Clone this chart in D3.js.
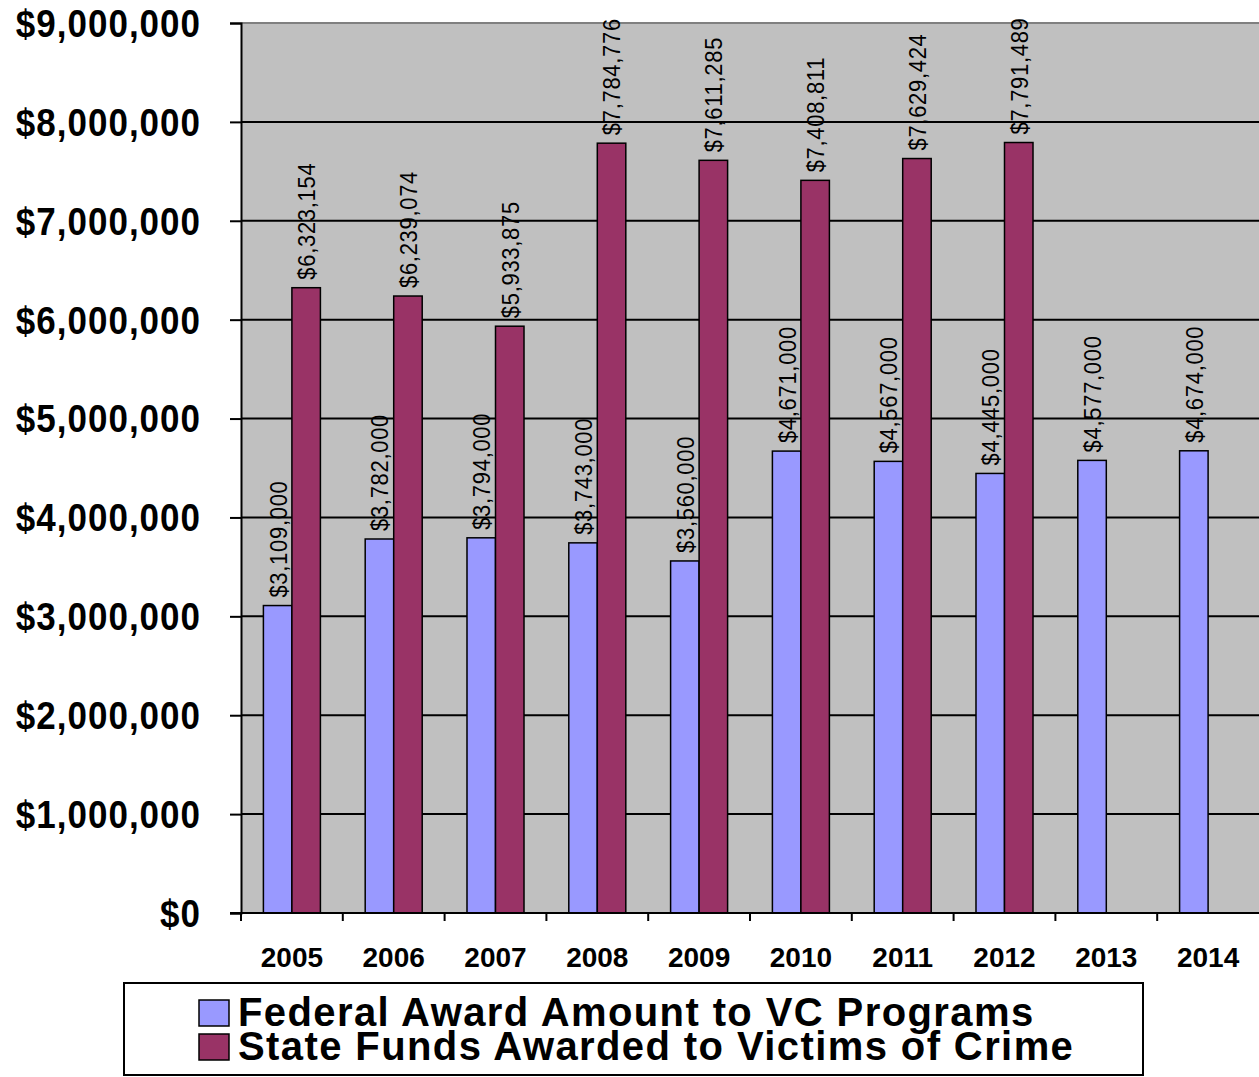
<!DOCTYPE html>
<html>
<head>
<meta charset="utf-8">
<script src="https://cdn.jsdelivr.net/npm/d3@7"></script>
<style>
  html, body { margin: 0; padding: 0; background: #fff; }
  svg { display: block; }
  text { font-family: "Liberation Sans", Arial, sans-serif; fill: #000; }
</style>
</head>
<body>
<svg id="chart" width="1259" height="1077"></svg>
<script>
const years = ["2005","2006","2007","2008","2009","2010","2011","2012","2013","2014"];
const federal = [3109000, 3782000, 3794000, 3743000, 3560000, 4671000, 4567000, 4445000, 4577000, 4674000];
const stateFunds = [6323154, 6239074, 5933875, 7784776, 7611285, 7408811, 7629424, 7791489, null, null];
const seriesNames = ["Federal Award Amount to VC Programs", "State Funds Awarded to Victims of Crime"];
const seriesColors = ["#9999FF", "#993366"];
const yTicks = [0,1000000,2000000,3000000,4000000,5000000,6000000,7000000,8000000,9000000];

(function () {
const svg = d3.select("#chart");
const pL = 241, pR = 1259, pT = 23, pB = 913;

const x = d3.scaleBand().domain(years).range([pL, pR]).padding(0);
const xs = d3.scaleBand().domain([0,1]).range([x.bandwidth()*0.22, x.bandwidth()*0.78]).padding(0);
const y = d3.scaleLinear().domain([0, 9000000]).range([pB, pT]);
const money = d3.format("$,.0f");

// plot background
svg.append("rect").attr("x", pL).attr("y", pT).attr("width", pR-pL).attr("height", pB-pT)
  .attr("fill", "#C0C0C0");
svg.append("line").attr("x1", pL).attr("x2", pR).attr("y1", pT).attr("y2", pT)
  .attr("stroke", "#808080").attr("stroke-width", 2);

// gridlines
svg.append("g").selectAll("line").data(yTicks.filter(d => d > 0 && d < 9000000)).join("line")
  .attr("x1", pL).attr("x2", pR).attr("y1", d => y(d)).attr("y2", d => y(d))
  .attr("stroke", "#000").attr("stroke-width", 2);

// y axis
const yAxis = svg.append("g").attr("transform", `translate(${pL},0)`)
  .call(d3.axisLeft(y).tickValues(yTicks).tickSize(11).tickFormat(""));
yAxis.select(".domain").attr("stroke", "#000").attr("stroke-width", 2);
yAxis.selectAll(".tick line").attr("stroke", "#000").attr("stroke-width", 2);
svg.append("g").selectAll("text").data(yTicks).join("text")
  .attr("transform", d => `translate(201,${y(d)}) scale(1,1.1)`)
  .attr("text-anchor", "end").attr("dy", "0.36em")
  .attr("font-size", 35).attr("font-weight", "bold").attr("letter-spacing", 1)
  .text(d => money(d));

// bars
const rows = years.map((yr, i) => ({ yr, vals: [federal[i], stateFunds[i]] }));
const groups = svg.append("g").selectAll("g").data(rows).join("g")
  .attr("transform", d => `translate(${x(d.yr)},0)`);
groups.selectAll("rect").data(d => d.vals.map((v, k) => ({ v, k })).filter(e => e.v != null)).join("rect")
  .attr("x", e => xs(e.k)).attr("width", xs.bandwidth())
  .attr("y", e => y(e.v)).attr("height", e => y(0) - y(e.v))
  .attr("fill", e => seriesColors[e.k]).attr("stroke", "#000").attr("stroke-width", 1.5);
groups.selectAll("text").data(d => d.vals.map((v, k) => ({ v, k })).filter(e => e.v != null)).join("text")
  .attr("transform", e => `translate(${xs(e.k) + xs.bandwidth()/2},${y(e.v) - 8}) rotate(-90) scale(1,1.12)`)
  .attr("dy", "0.36em").attr("font-size", 22).attr("letter-spacing", 0.7)
  .text(e => money(e.v));

// x axis
const xAxis = svg.append("g").attr("transform", `translate(0,${pB})`);
xAxis.append("line").attr("x1", 230).attr("x2", pR).attr("y1", 0).attr("y2", 0)
  .attr("stroke", "#000").attr("stroke-width", 2);
const bounds = years.map(yr => x(yr));
xAxis.selectAll("line.tk").data(bounds).join("line").attr("class", "tk")
  .attr("x1", d => d).attr("x2", d => d).attr("y1", 0).attr("y2", 8)
  .attr("stroke", "#000").attr("stroke-width", 2);
xAxis.selectAll("text").data(years).join("text")
  .attr("x", d => x(d) + x.bandwidth()/2).attr("y", 54)
  .attr("text-anchor", "middle").attr("font-size", 28).attr("font-weight", "bold")
  .text(d => d);

// legend
const lg = svg.append("g");
lg.append("rect").attr("x", 124).attr("y", 983).attr("width", 1019).attr("height", 92)
  .attr("fill", "#fff").attr("stroke", "#000").attr("stroke-width", 2);
const items = lg.selectAll("g").data(seriesNames).join("g")
  .attr("transform", (d, i) => `translate(199,${1000 + i*34})`);
items.append("rect").attr("width", 30).attr("height", 26)
  .attr("fill", (d, i) => seriesColors[i]).attr("stroke", "#000").attr("stroke-width", 1.5);
items.append("text").attr("x", 39).attr("y", 26)
  .attr("font-size", 40).attr("font-weight", "bold").attr("letter-spacing", 1.4)
  .text(d => d);
})();
</script>
</body>
</html>
